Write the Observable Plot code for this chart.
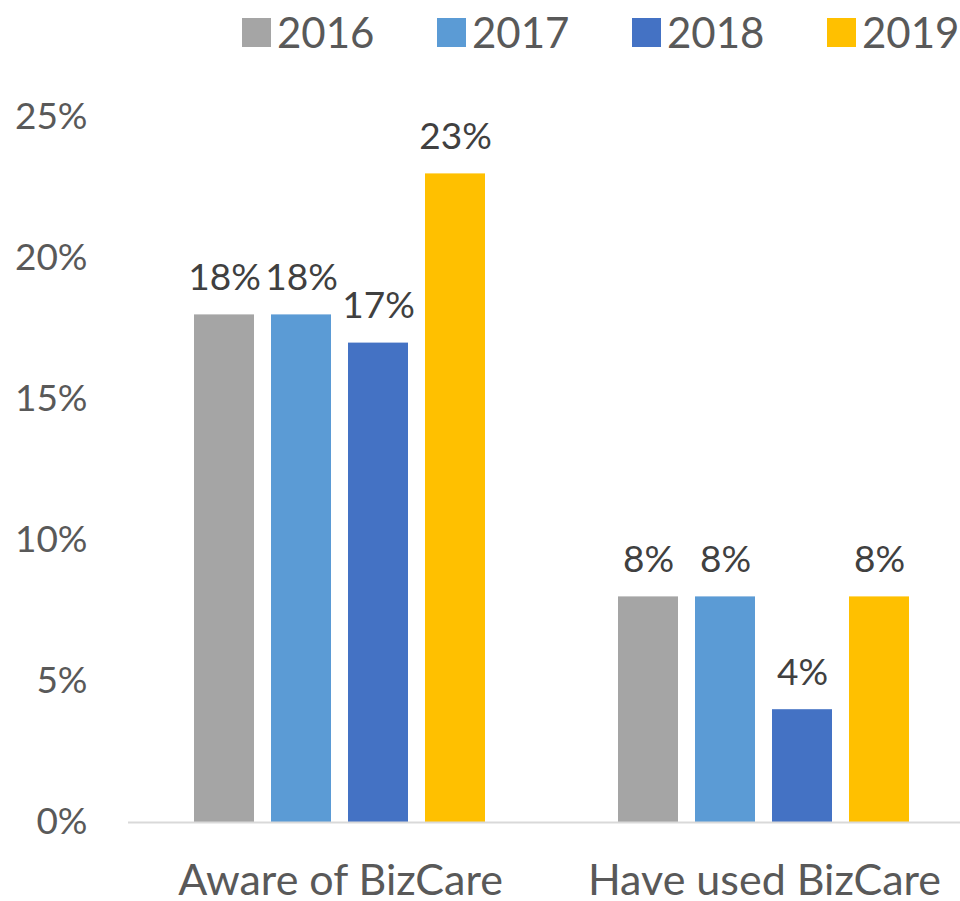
<!DOCTYPE html>
<html>
<head>
<meta charset="utf-8">
<script src="https://cdn.jsdelivr.net/npm/d3@7"></script>
<script src="https://cdn.jsdelivr.net/npm/@observablehq/plot@0.6"></script>
<style>
  html, body { margin: 0; padding: 0; background: #fff; }
  #wrap { position: relative; width: 960px; height: 901px; overflow: hidden; font-family: Lato, sans-serif; }
  #legend { position: absolute; left: 242px; top: 18px; display: flex; }
  .item { display: flex; align-items: center; gap: 6px; height: 29px; width: 195px; }
  .sw { width: 29px; height: 29px; flex: none; }
  .lab { font-size: 42px; line-height: 29px; color: #595959; white-space: nowrap; }
  #chart { position: absolute; left: 0; top: 0; width: 976px; }
  #chart svg { max-width: none !important; }
</style>
</head>
<body>
<div id="wrap">
  <div id="chart"></div>
  <div id="legend"></div>
</div>
<script>
const categories = ["Aware of BizCare", "Have used BizCare"];
const years = ["2016", "2017", "2018", "2019"];
const colors = ["#A5A5A5", "#5B9BD5", "#4472C4", "#FFC000"];
const aware = [18, 18, 17, 23];
const used = [8, 8, 4, 8];
const yTicks = [0, 5, 10, 15, 20, 25];

const seriesByCat = [aware, used];
const data = [];
categories.forEach((c, ci) => years.forEach((yr, yi) => data.push({category: c, year: yr, value: seriesByCat[ci][yi]})));

const plot = Plot.plot({
  width: 976,
  height: 901,
  marginLeft: 128,
  marginRight: 0,
  marginTop: 117,
  marginBottom: 79,
  style: {fontFamily: "Lato, sans-serif", background: "#fff", maxWidth: "none"},
  fx: {domain: categories, padding: 0, label: null},
  x: {domain: years, paddingInner: 0.22, paddingOuter: 0.863, axis: null},
  y: {domain: [0, 25], label: null},
  color: {domain: years, range: colors},
  marks: [
    Plot.axisY({ticks: yTicks, tickFormat: d => d + "%", tickSize: 0, tickPadding: 41, fontSize: 37, fill: "#595959", label: null}),
    Plot.axisFx({anchor: "bottom", tickSize: 0, tickPadding: 42, fontSize: 43, fill: "#595959", label: null}),
    Plot.barY(data, {fx: "category", x: "year", y: "value", fill: "year"}),
    Plot.ruleY([0], {stroke: "#d9d9d9", strokeWidth: 2}),
    Plot.text(data, {fx: "category", x: "year", y: "value", text: d => d.value + "%", dy: -37, fontSize: 37, fill: "#404040"})
  ]
});
document.getElementById("chart").appendChild(plot);

const legend = document.getElementById("legend");
years.forEach((yr, i) => {
  const item = document.createElement("div");
  item.className = "item";
  const sw = document.createElement("div");
  sw.className = "sw";
  sw.style.background = colors[i];
  const lab = document.createElement("span");
  lab.className = "lab";
  lab.textContent = yr;
  item.appendChild(sw);
  item.appendChild(lab);
  legend.appendChild(item);
});
</script>
</body>
</html>
